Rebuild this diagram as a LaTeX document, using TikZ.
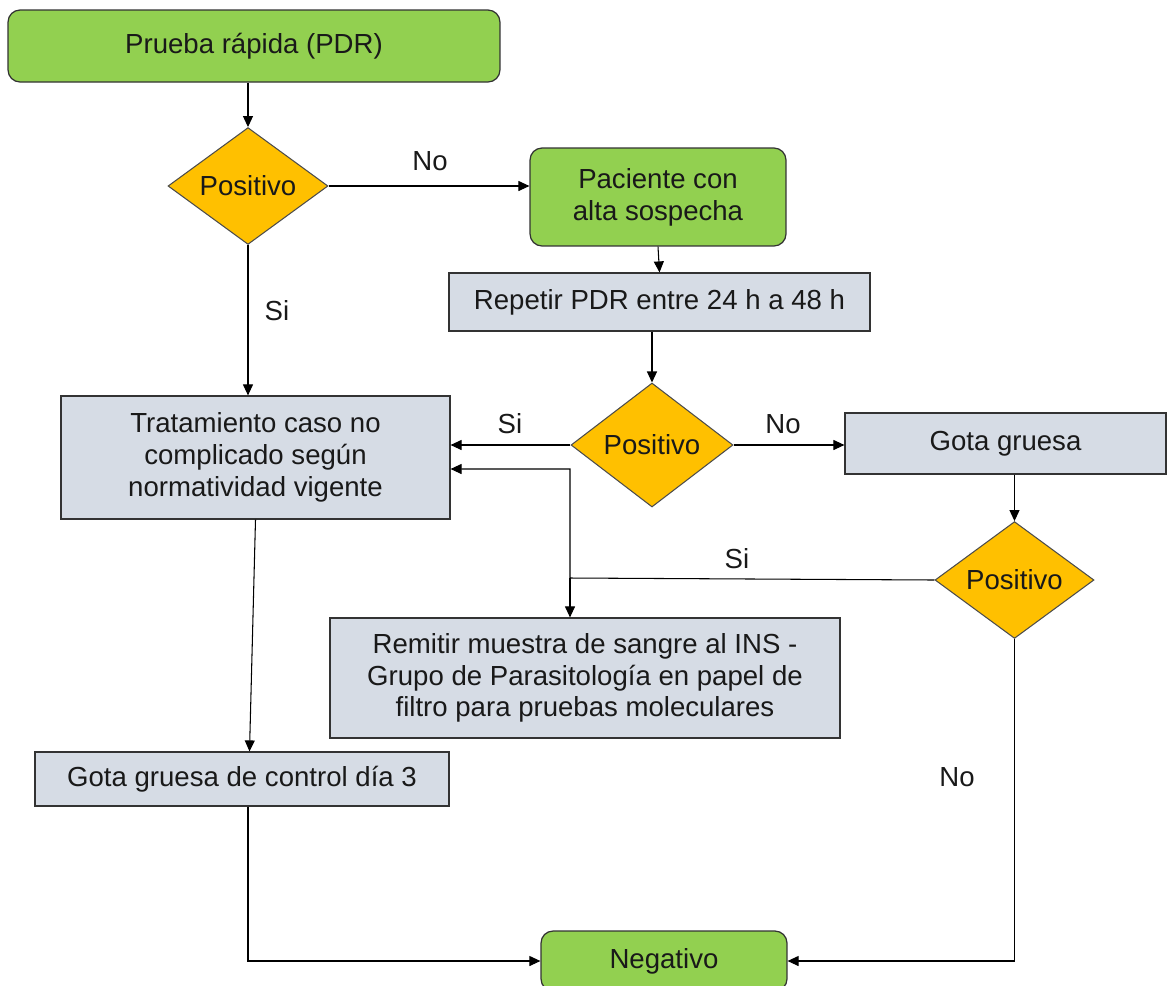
\documentclass[tikz,border=0pt]{standalone}
\usepackage{fontspec}
\setmainfont{Liberation Sans}
\usetikzlibrary{shapes.geometric,arrows.meta}
\definecolor{verde}{HTML}{92D050}
\definecolor{naranja}{HTML}{FFC000}
\definecolor{gris}{HTML}{D6DCE5}

\begin{document}
\begin{tikzpicture}[x=0.02cm,y=-0.02cm,
  every node/.style={font=\fontsize{15.7}{18.1}\selectfont, text=black!90},
  inicio/.style={draw=black!80, fill=verde, rounded corners=0.24cm, line width=0.7pt, inner sep=0pt, align=center},
  caja/.style={draw=black!80, fill=gris, line width=0.7pt, inner sep=0pt, align=center},
  decision/.style={diamond, draw=black!70, fill=naranja, line width=0.6pt, inner sep=0pt},
  flecha/.style={-{Triangle[length=0.22cm,width=0.2cm]}, line width=0.6pt}]
\useasboundingbox (0,0) rectangle (1167,985);

\node[inicio, minimum width=9.84cm, minimum height=1.44cm] (pdr) at (254,46) {Prueba rápida (PDR)};
\node[decision, minimum width=3.2cm, minimum height=2.24cm] (pos1) at (248,186) {Positivo};
\node[inicio, minimum width=5.12cm, minimum height=1.96cm] (sospecha) at (658,197) {Paciente con\\alta sospecha};
\node[caja, minimum width=8.42cm, minimum height=1.16cm] (repetir) at (659.5,302) {Repetir PDR entre 24 h a 48 h};
\node[decision, minimum width=3.24cm, minimum height=2.48cm] (pos2) at (652,445) {Positivo};
\node[caja, minimum width=7.78cm, minimum height=2.46cm] (trat) at (255.5,457.5) {Tratamiento caso no\\complicado según\\normatividad vigente};
\node[caja, minimum width=6.42cm, minimum height=1.22cm] (gota) at (1005.5,443.5) {Gota gruesa};
\node[decision, minimum width=3.18cm, minimum height=2.24cm] (pos3) at (1014.5,580) {Positivo};
\node[caja, minimum width=10.2cm, minimum height=2.4cm] (remitir) at (585,678) {Remitir muestra de sangre al INS -\\Grupo de Parasitología en papel de\\filtro para pruebas moleculares};
\node[caja, minimum width=8.28cm, minimum height=1.08cm] (control) at (242,779) {Gota gruesa de control día 3};
\node[inicio, minimum width=4.92cm, minimum height=1.2cm] (neg) at (664,961) {Negativo};

\node (no1) at (430,161) {No};
\node (si1) at (277,311) {Si};
\node (si2) at (510,424) {Si};
\node (no2) at (783,424) {No};
\node (si3) at (737,559) {Si};
\node (no3) at (957,777) {No};

\coordinate (cruce) at (570,578);

\draw[flecha] (pdr.south -| pos1.north) -- (pos1.north);
\draw[flecha] (pos1.east) -- (pos1.east -| sospecha.west);
\draw[flecha] (sospecha.south) -- (repetir.north);
\draw[flecha] (repetir.south -| pos2.north) -- (pos2.north);
\draw[flecha] (pos2.west) -- (pos2.west -| trat.east);
\draw[flecha] (pos2.east) -- (pos2.east -| gota.west);
\draw[flecha] (gota.south -| pos3.north) -- (pos3.north);
\draw[flecha] (pos1.south) -- (pos1.south |- trat.north);
\draw[flecha] (pos3.west) -- (cruce) |- ([yshift=-0.23cm]trat.east);
\draw[flecha] (cruce) -- (cruce |- remitir.north);
\draw[flecha] (trat.south) -- ([xshift=0.15cm]control.north);
\draw[flecha] ([xshift=0.12cm]control.south) |- (neg.west);
\draw[flecha] (pos3.south) |- (neg.east);
\end{tikzpicture}
\end{document}
